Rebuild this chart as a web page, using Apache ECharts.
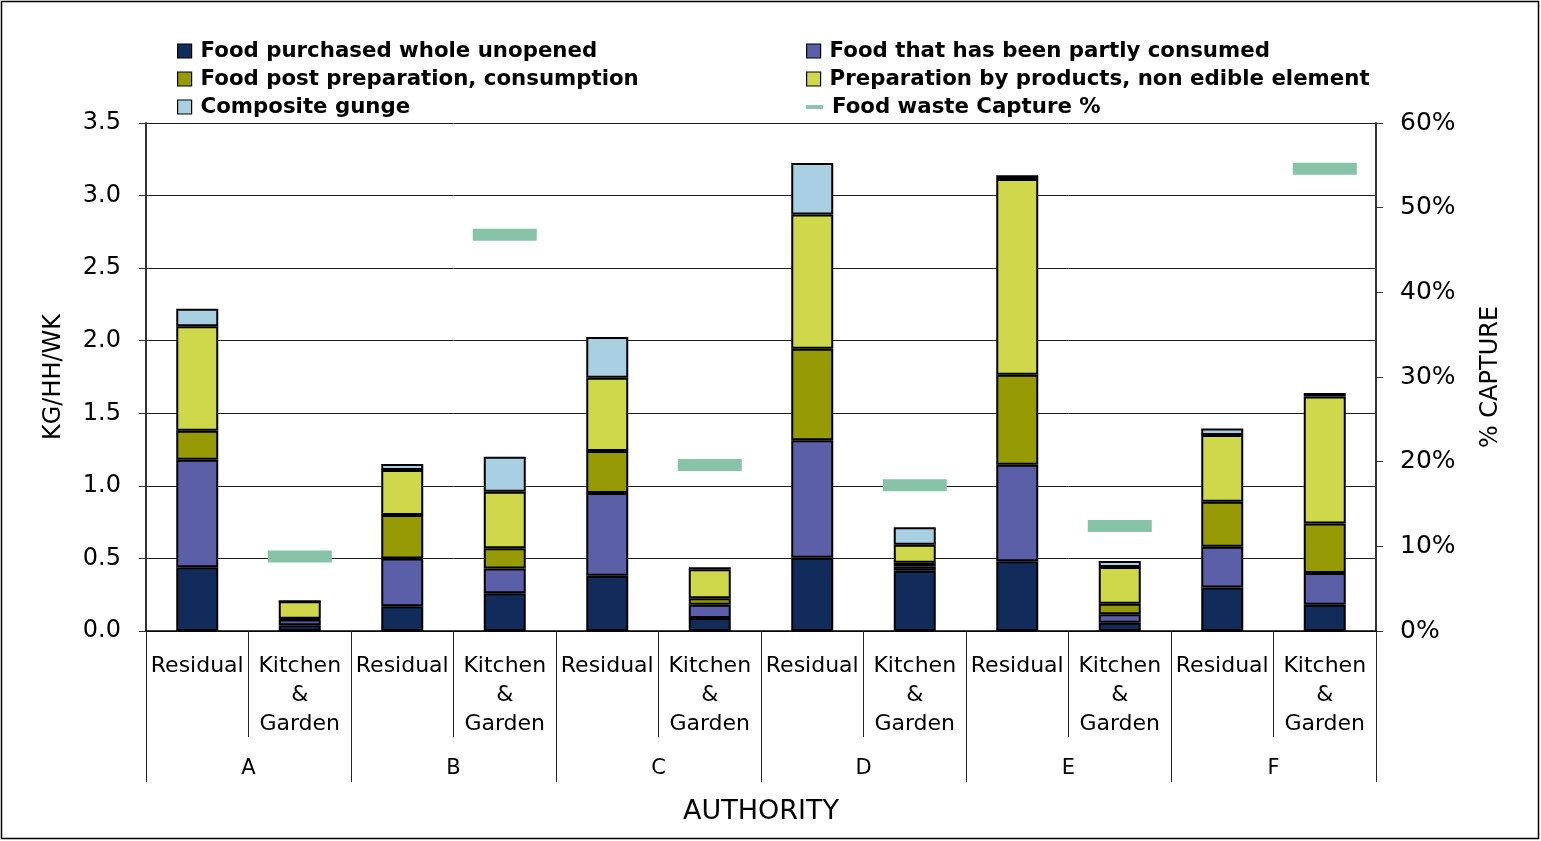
<!DOCTYPE html>
<html>
<head>
<meta charset="utf-8">
<title>Food waste composition by authority</title>
<script src="https://cdn.jsdelivr.net/npm/echarts@6/dist/echarts.min.js"></script>
<style>
  html, body { margin: 0; padding: 0; background: #ffffff; }
  #chart { width: 1541px; height: 841px; }
</style>
</head>
<body>
<div id="chart"></div>
<script>
// Collection stream per bar, and the authority each pair belongs to
const streams = ['Residual', 'Kitchen\n&\nGarden', 'Residual', 'Kitchen\n&\nGarden',
                 'Residual', 'Kitchen\n&\nGarden', 'Residual', 'Kitchen\n&\nGarden',
                 'Residual', 'Kitchen\n&\nGarden', 'Residual', 'Kitchen\n&\nGarden'];
const authorities = ['A', 'B', 'C', 'D', 'E', 'F'];

// kg per household per week, by food waste type
const purchasedWhole = [0.44, 0.04, 0.17, 0.26, 0.38, 0.09, 0.505, 0.415, 0.48, 0.057, 0.30, 0.18];
const partlyConsumed = [0.74, 0.04, 0.33, 0.17, 0.57, 0.09, 0.81, 0.03, 0.665, 0.058, 0.28, 0.22];
const postPreparation = [0.20, 0.005, 0.30, 0.14, 0.29, 0.045, 0.63, 0.025, 0.62, 0.073, 0.31, 0.34];
const prepByProducts = [0.72, 0.12, 0.31, 0.39, 0.505, 0.20, 0.925, 0.125, 1.35, 0.253, 0.46, 0.875];
const compositeGunge = [0.12, 0.0, 0.04, 0.24, 0.28, 0.015, 0.355, 0.12, 0.025, 0.041, 0.045, 0.025];

// Share of food waste captured by the kitchen & garden collection (%)
const capturePct = [null, 8.8, null, 46.8, null, 19.6, null, 17.2, null, 12.4, null, 54.6];

const leftTicks = [0, 0.5, 1, 1.5, 2, 2.5, 3, 3.5];
const rightTicks = [0, 10, 20, 30, 40, 50, 60];

const FONT = 'DejaVu Sans';

function stackBar(name, color, data) {
  return {
    name: name,
    type: 'bar',
    stack: 'waste',
    barWidth: 42,
    data: data,
    itemStyle: { color: color, borderColor: '#000000', borderWidth: 2 }
  };
}

const chart = echarts.init(document.getElementById('chart'), null, { renderer: 'canvas' });

const legendText = { fontFamily: FONT, fontWeight: 'bold', fontSize: 21.3, lineHeight: 22, color: '#000000', padding: [0, 0, 0, 4] };
const legendBase = { orient: 'vertical', padding: 0, itemWidth: 14, itemHeight: 14, itemGap: 6, icon: 'rect',
                     itemStyle: { borderColor: '#000000', borderWidth: 1.2 }, textStyle: legendText };

chart.setOption({
  backgroundColor: '#ffffff',
  animation: false,
  graphic: [{
    type: 'rect',
    shape: { x: 1.5, y: 1.5, width: 1537, height: 837 },
    style: { fill: 'none', stroke: '#000000', lineWidth: 1.5 },
    silent: true
  }],
  legend: [Object.assign({}, legendBase, {
    left: 177, top: 40,
    data: ['Food purchased whole unopened', 'Food post preparation, consumption', 'Composite gunge']
  }), Object.assign({}, legendBase, {
    left: 806, top: 40,
    data: ['Food that has been partly consumed', 'Preparation by products, non edible element']
  }), {
    orient: 'vertical', padding: 0, left: 806, top: 96, itemWidth: 17, itemHeight: 14,
    textStyle: legendText,
    data: [{ name: 'Food waste Capture %', icon: 'path://M0 0H18V4H0Z' }]
  }],
  grid: { left: 146, top: 123, width: 1230, height: 508, containLabel: false },
  xAxis: [{
    type: 'category',
    position: 'bottom',
    data: streams,
    axisLine: { show: true, lineStyle: { color: '#000000', width: 1.5 } },
    axisTick: { show: true, length: 106, alignWithLabel: false, lineStyle: { color: '#222222', width: 1 } },
    axisLabel: { interval: 0, margin: 21, fontFamily: FONT, fontSize: 22, lineHeight: 29, color: '#000000', align: 'center' },
    splitLine: { show: false }
  }, {
    type: 'category',
    position: 'bottom',
    data: authorities,
    axisLine: { show: false },
    axisTick: { show: true, length: 151, alignWithLabel: false, lineStyle: { color: '#222222', width: 1 } },
    axisLabel: { interval: 0, margin: 127, fontFamily: FONT, fontSize: 21, lineHeight: 22, color: '#000000' },
    splitLine: { show: false },
    name: 'AUTHORITY',
    nameLocation: 'middle',
    nameGap: 167,
    nameTextStyle: { fontFamily: FONT, fontSize: 27, color: '#000000' }
  }],
  yAxis: [{
    type: 'value',
    position: 'left',
    min: 0, max: 3.5, interval: 0.5,
    name: 'KG/HH/WK',
    nameLocation: 'middle',
    nameRotate: 90,
    nameGap: 80,
    nameTextStyle: { fontFamily: FONT, fontSize: 24, color: '#000000' },
    axisLine: { show: true, lineStyle: { color: '#333333', width: 2 } },
    axisTick: { show: true, inside: false, length: 7, lineStyle: { color: '#333333', width: 1 } },
    axisLabel: {
      margin: 25, fontFamily: FONT, fontSize: 24, color: '#000000',
      customValues: leftTicks,
      formatter: function (v) { return v.toFixed(1); }
    },
    splitLine: { show: true, lineStyle: { color: '#1a1a1a', width: 1 } }
  }, {
    type: 'value',
    position: 'right',
    min: 0, max: 60, interval: 10,
    name: '% CAPTURE',
    nameLocation: 'middle',
    nameRotate: 90,
    nameGap: 103,
    nameTextStyle: { fontFamily: FONT, fontSize: 24, color: '#000000' },
    axisLine: { show: true, lineStyle: { color: '#333333', width: 2 } },
    axisTick: { show: true, inside: false, length: 7, lineStyle: { color: '#333333', width: 1 } },
    axisLabel: {
      margin: 24, fontFamily: FONT, fontSize: 25, color: '#000000',
      customValues: rightTicks,
      formatter: function (v) { return v + '%'; }
    },
    splitLine: { show: false }
  }],
  series: [
    stackBar('Food purchased whole unopened', '#112b5b', purchasedWhole),
    stackBar('Food that has been partly consumed', '#5a5fa8', partlyConsumed),
    stackBar('Food post preparation, consumption', '#969a05', postPreparation),
    stackBar('Preparation by products, non edible element', '#cfd74a', prepByProducts),
    stackBar('Composite gunge', '#a9d0e2', compositeGunge),
    {
      name: 'Food waste Capture %',
      type: 'scatter',
      yAxisIndex: 1,
      xAxisIndex: 0,
      symbol: 'rect',
      symbolSize: [64, 12],
      data: capturePct,
      itemStyle: { color: '#86c3a8', opacity: 1 },
      z: 5
    }
  ]
});
</script>
</body>
</html>
